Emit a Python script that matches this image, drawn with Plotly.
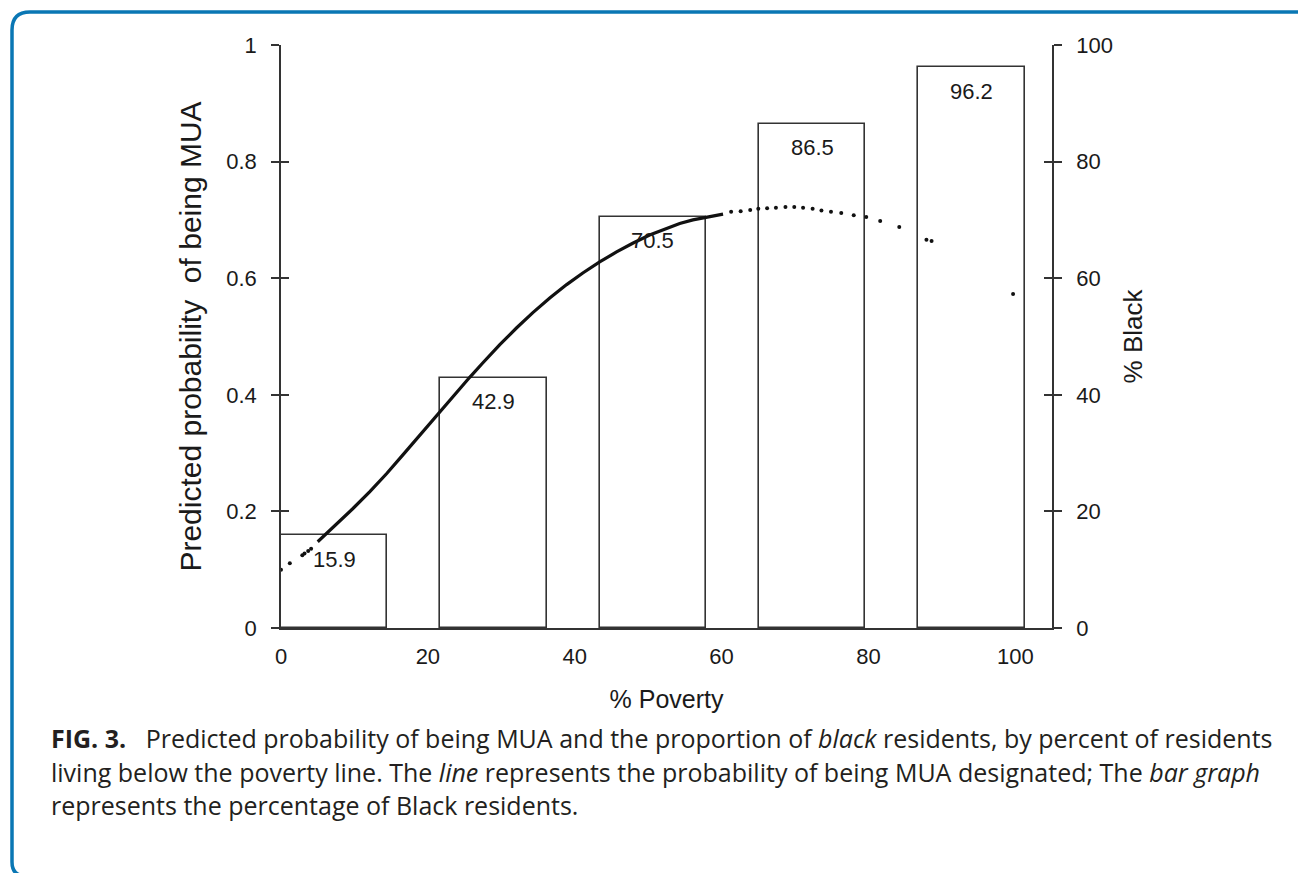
import plotly.graph_objects as go

# ---------------- data ----------------
poverty_bins = [7.25, 28.95, 50.65, 72.35, 94.05]      # bar centres (% poverty)
pct_black = [15.9, 42.9, 70.5, 86.5, 96.2]             # % Black residents
bar_labels = ["15.9", "42.9", "70.5", "86.5", "96.2"]

# predicted probability (dense part of the dotted curve)
curve_x = [5.0, 7.6, 9.8, 12.1, 14.4, 16.6, 18.9, 21.0, 22.9, 25.7, 27.5, 29.8,
           32.1, 34.3, 36.6, 38.9, 41.1, 43.4, 45.7, 47.9, 50.2, 52.5, 54.3,
           56.1, 58.4, 60.2]
curve_y = [0.148, 0.178, 0.205, 0.234, 0.265, 0.297, 0.331, 0.362, 0.390, 0.430,
           0.455, 0.486, 0.515, 0.541, 0.566, 0.589, 0.609, 0.628, 0.645, 0.660,
           0.674, 0.686, 0.694, 0.700, 0.706, 0.710]

# predicted probability (sparse dots)
dots_x = [0.0, 1.2, 2.9, 3.2, 3.7, 4.1, 61.3, 62.6, 63.9, 65.0, 66.2, 67.4, 68.7,
          69.9, 71.1, 72.4, 73.6, 74.9, 76.3, 78.0, 79.7, 81.6, 84.2, 87.9, 88.6, 99.7]
dots_y = [0.100, 0.111, 0.125, 0.128, 0.132, 0.136, 0.714, 0.715, 0.717, 0.719,
          0.720, 0.721, 0.722, 0.722, 0.721, 0.719, 0.716, 0.714, 0.712, 0.708,
          0.705, 0.698, 0.688, 0.666, 0.664, 0.573]

x_ticks = [0, 20, 40, 60, 80, 100]
left_ticks = [0, 0.2, 0.4, 0.6, 0.8, 1]
left_ticktext = ["0", "0.2", "0.4", "0.6", "0.8", "1"]
right_ticks = [0, 20, 40, 60, 80, 100]

caption_lines = [
    "<b>FIG. 3.</b>\u00a0\u00a0\u00a0Predicted probability of being MUA and the proportion of <i>black</i> residents, by percent of residents",
    "living below the poverty line. The <i>line</i> represents the probability of being MUA designated; The <i>bar graph</i>",
    "represents the percentage of Black residents.",
]

# ---------------- layout geometry (reference pixel coords) ----------------
W, H = 1306, 873
OFF = 8                      # page body margin of the browser
PL, PR, PT, PB = 281, 1052, 45, 628


def px(xp):
    return (xp - PL) / (PR - PL)


def py(yp):
    return (PB - yp) / (PB - PT)


AX = "#333333"
TXT = "#1a1a1a"
FONT = "Liberation Sans, Arial, sans-serif"

fig = go.Figure()

fig.add_trace(go.Bar(
    x=poverty_bins, y=pct_black, width=14.5,
    marker=dict(color="white", line=dict(color=AX, width=1.6)),
    yaxis="y", showlegend=False, hoverinfo="skip",
))

fig.add_trace(go.Scatter(
    x=curve_x, y=curve_y, mode="lines", yaxis="y2",
    line=dict(color="#111111", width=3.2),
    showlegend=False, hoverinfo="skip",
))
fig.add_trace(go.Scatter(
    x=dots_x, y=dots_y, mode="markers", yaxis="y2",
    marker=dict(color="#111111", size=4),
    showlegend=False, hoverinfo="skip", cliponaxis=False,
))
# helper traces so the inner-tick axes are drawn
fig.add_trace(go.Scatter(x=[None], y=[None], yaxis="y3", showlegend=False, hoverinfo="skip"))
fig.add_trace(go.Scatter(x=[None], y=[None], yaxis="y4", showlegend=False, hoverinfo="skip"))

annotations = []
for xv, yv, lab in zip(poverty_bins, pct_black, bar_labels):
    annotations.append(dict(
        x=xv, y=yv, xref="x", yref="y", text=lab, showarrow=False,
        yanchor="middle", xanchor="center", yshift=-24,
        font=dict(family=FONT, size=22, color=TXT),
    ))

cap_y = [738, 772, 805]
for line, yy in zip(caption_lines, cap_y):
    annotations.append(dict(
        x=px(49), y=py(yy), xref="paper", yref="paper", text=line,
        showarrow=False, xanchor="left", yanchor="middle", align="left",
        font=dict(family="Open Sans, Noto Sans, sans-serif", size=25, color="#231f20"),
    ))

# rounded blue frame
r = 18
rb = 14
ybot = 876
x0, y0 = px(12), py(12)
path = (
    f"M {px(W + 20)},{y0} L {px(12 + r)},{y0} "
    f"Q {x0},{y0} {x0},{py(12 + r)} "
    f"L {x0},{py(ybot - rb)} Q {x0},{py(ybot)} {px(12 + rb)},{py(ybot)} "
    f"L {px(W + 20)},{py(ybot)}"
)
shapes = [dict(type="path", path=path, xref="paper", yref="paper",
               line=dict(color="#0a77b4", width=3.5), layer="above")]

common_y = dict(showgrid=False, zeroline=False)

fig.update_layout(
    width=W, height=H,
    margin=dict(l=PL - OFF, r=W - (PR - OFF), t=PT - OFF, b=H - (PB - OFF), pad=0),
    paper_bgcolor="white", plot_bgcolor="white",
    font=dict(family=FONT, color=TXT),
    bargap=0,
    xaxis=dict(
        range=[0, 105], tickvals=x_ticks, ticks="", showline=True,
        linecolor=AX, linewidth=1.6, showgrid=False, zeroline=False,
        tickfont=dict(size=22, color=TXT), ticklabelstandoff=8,
        title=dict(text="% Poverty", font=dict(size=25, color=TXT), standoff=22),
    ),
    yaxis=dict(
        range=[0, 100], side="right", tickvals=right_ticks, ticks="outside",
        ticklen=8, tickwidth=1.6, tickcolor=AX, showline=True, linecolor=AX,
        linewidth=1.6, tickfont=dict(size=22, color=TXT), ticklabelstandoff=10,
        title=dict(text="% Black", font=dict(size=26, color=TXT), standoff=12),
        **common_y,
    ),
    yaxis2=dict(
        range=[0, 1], side="left", overlaying="y", tickvals=left_ticks,
        ticktext=left_ticktext, ticks="outside", ticklen=8, tickwidth=1.6,
        tickcolor=AX, showline=True, linecolor=AX, linewidth=1.6,
        tickfont=dict(size=22, color=TXT), ticklabelstandoff=10,
        title=dict(text="Predicted probability\u00a0 of being MUA",
                   font=dict(size=30, color=TXT), standoff=16),
        **common_y,
    ),
    yaxis3=dict(
        range=[0, 100], side="right", overlaying="y", tickvals=right_ticks,
        ticks="inside", ticklen=8, tickwidth=1.6, tickcolor=AX,
        showticklabels=False, showline=False, **common_y,
    ),
    yaxis4=dict(
        range=[0, 1], side="left", overlaying="y", tickvals=left_ticks,
        ticks="inside", ticklen=8, tickwidth=1.6, tickcolor=AX,
        showticklabels=False, showline=False, **common_y,
    ),
    annotations=annotations,
    shapes=shapes,
)

fig.write_html("out.html")
